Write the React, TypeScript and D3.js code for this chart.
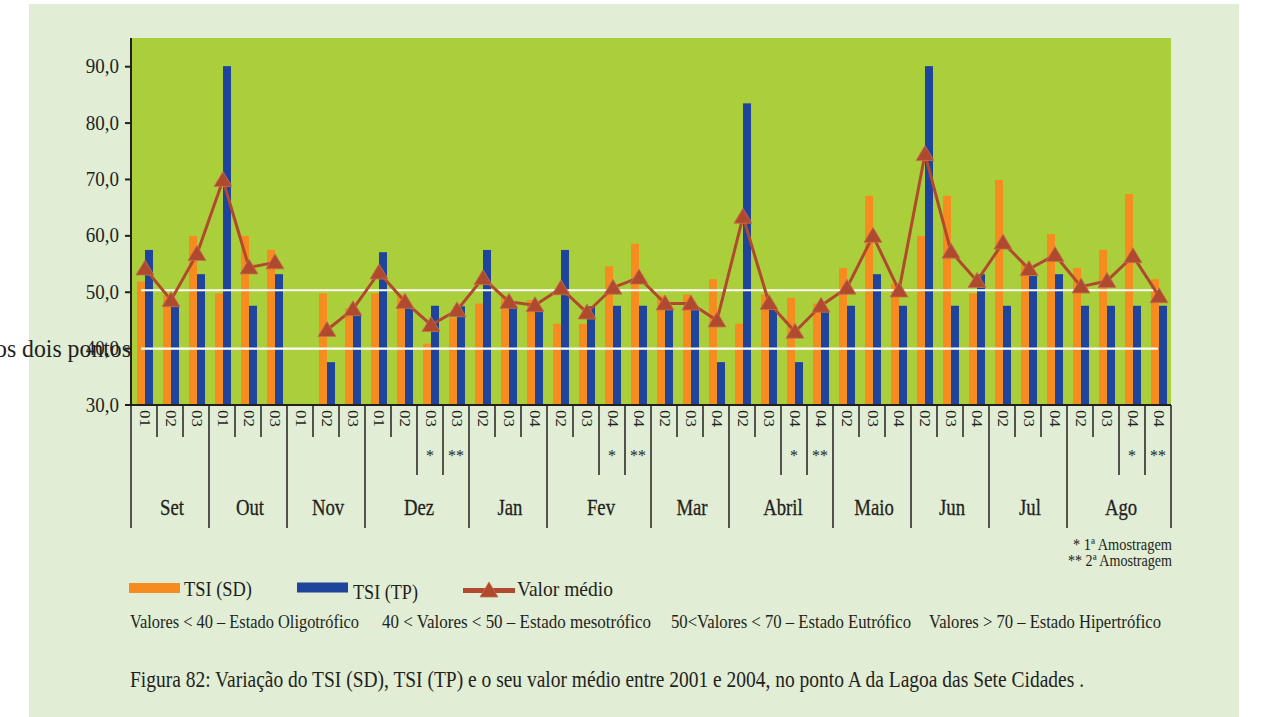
import React from "react";
import * as d3 from "d3";

// ---- data ----
const tickLabels = ["01","02","03","01","02","03","01","02","03","01","02","03","03","02","03","04","02","03","04","04","02","03","04","02","03","04","04","02","03","04","02","03","04","02","03","04","02","03","04","04"];
const starMarks = ["","","","","","","","","","","","*","**","","","","","","*","**","","","","","","*","**","","","","","","","","","","","","*","**"];
const monthNames = ["Set","Out","Nov","Dez","Jan","Fev","Mar","Abril","Maio","Jun","Jul","Ago"];
const monthCounts = [3,3,3,4,3,4,3,4,3,3,3,4];
const tsiSD = [51.9,49.5,60.0,49.8,60.0,57.5,null,49.8,47.2,49.8,49.6,40.9,45.4,48.0,49.3,48.6,44.4,44.4,54.6,58.6,49.4,49.6,52.3,44.4,49.6,49.0,48.0,54.3,67.1,51.5,60.0,67.1,49.8,69.9,55.0,60.3,54.3,57.5,67.4,52.3];
const tsiTP = [57.5,47.6,53.2,90.1,47.6,53.2,null,37.6,46.3,57.1,47.5,47.6,47.5,57.5,47.5,46.8,57.5,47.5,47.6,47.6,47.0,47.0,37.6,83.5,47.0,37.6,46.8,47.6,53.2,47.6,90.1,47.6,53.2,47.6,52.9,53.2,47.6,47.6,47.6,47.6];
const valorMedio = [54.2,48.6,56.8,69.9,54.4,55.3,null,43.3,47.0,53.5,48.3,44.2,46.8,52.5,48.3,47.7,50.7,46.4,50.8,52.6,48.0,48.0,45.0,63.4,48.1,43.0,47.6,50.8,60.0,50.3,74.5,57.2,52.0,58.8,54.1,56.6,51.0,52.0,56.4,49.3];
const yTicks = [30,40,50,60,70,80,90];
const thresholds = [50,40];
const trophicTexts = [
  "Valores < 40 – Estado Oligotrófico",
  "40 < Valores < 50 – Estado mesotrófico",
  "50<Valores < 70 – Estado Eutrófico",
  "Valores > 70 – Estado Hipertrófico",
];

const FONT = "Liberation Serif";
const INK = "#231f20";
const ORANGE = "#f68b1f";
const BLUE = "#1e449b";
const RED = "#b04a2e";
const T = { fontFamily: FONT, fill: INK } as const;

export default function App() {
  const W = 1261, H = 717;
  const left = 131, right = 1171, top = 38, bottom = 405;
  const n = tickLabels.length;
  const x = d3.scaleBand<number>().domain(d3.range(n)).range([left, right]);
  const bw = x.bandwidth();
  const cx = (i: number) => (x(i) as number) + bw / 2;
  const y = d3.scaleLinear().domain([30, 90]).range([bottom, 66.7]);
  const fmt = (v: number) => d3.format(".1f")(v).replace(".", ",");
  const line = d3.line<number | null>()
    .defined((d) => d != null)
    .x((_, i) => cx(i) + 1)
    .y((d) => y(d as number));

  const monthStarts: number[] = [];
  let acc = 0;
  monthCounts.forEach((c) => { monthStarts.push(acc); acc += c; });
  const monthBoundary = new Set([...monthStarts, n]);

  const barW = 8;
  const tri = (px: number, py: number) =>
    `M${px},${py - 8.5}L${px + 9},${py + 6.5}L${px - 9},${py + 6.5}Z`;

  return (
    <svg width={W} height={H} style={{ position: "absolute", left: 0, top: 0, display: "block", fontFamily: FONT }}>
      <rect x={0} y={0} width={W} height={H} fill="#ffffff" />
      <rect x={29} y={4} width={1210} height={H - 4} fill="#e1edd5" />
      <rect x={left} y={top} width={right - left} height={bottom - top} fill="#abcf3a" />

      {tsiSD.map((v, i) => v == null ? null : (
        <rect key={"sd" + i} x={cx(i) + 1 - barW} y={y(v)} width={barW} height={bottom - y(v)} fill={ORANGE} />
      ))}
      {tsiTP.map((v, i) => v == null ? null : (
        <rect key={"tp" + i} x={cx(i) + 1} y={y(v)} width={barW} height={bottom - y(v)} fill={BLUE} />
      ))}

      {thresholds.map((t, k) => (
        <line key={"th" + k} x1={cx(0) - 3} x2={cx(n - 1)} y1={y(t) - (t === 50 ? 2 : 0)} y2={y(t) - (t === 50 ? 2 : 0)} stroke="#ffffff" strokeWidth={2.2} />
      ))}

      <path d={line(valorMedio) || ""} fill="none" stroke={RED} strokeWidth={3} strokeLinejoin="round" />
      {valorMedio.map((v, i) => v == null ? null : (
        <path key={"m" + i} d={tri(cx(i) + 1, y(v))} fill={RED} stroke="#c8704f" strokeWidth={0.8} />
      ))}

      <line x1={left} x2={left} y1={top} y2={bottom} stroke={INK} strokeWidth={2} />
      <line x1={left} x2={right} y1={bottom} y2={bottom} stroke={INK} strokeWidth={2} />
      {yTicks.map((t) => (
        <g key={"yt" + t}>
          <line x1={left - 6} x2={left} y1={y(t)} y2={y(t)} stroke={INK} strokeWidth={2} />
          <text {...T} transform={`translate(119,${y(t) + 6.5}) scale(0.95,1)`} textAnchor="end" fontSize={20}>{fmt(t)}</text>
        </g>
      ))}

      {d3.range(n + 1).map((i) => {
        const bx = left + i * bw;
        const y2 = monthBoundary.has(i) ? 528 : (starMarks[i] ? 475 : 437);
        return <line key={"sep" + i} x1={bx} x2={bx} y1={bottom} y2={y2} stroke={INK} strokeWidth={1.5} />;
      })}
      {tickLabels.map((t, i) => (
        <text {...T} key={"tl" + i} transform={`translate(${cx(i)},${410}) rotate(90)`} fontSize={14} dominantBaseline="central" textLength={17} lengthAdjust="spacingAndGlyphs">{t}</text>
      ))}
      {starMarks.map((s, i) => s ? (
        <text {...T} key={"st" + i} x={cx(i)} y={461} textAnchor="middle" fontSize={16}>{s}</text>
      ) : null)}
      {monthNames.map((m, k) => {
        const a = monthStarts[k];
        const mx = left + (a + monthCounts[k] / 2) * bw;
        return <text {...T} key={"mn" + k} transform={`translate(${mx + 2},515) scale(0.78,1)`} textAnchor="middle" fontSize={24} stroke={INK} strokeWidth={0.3}>{m}</text>;
      })}

      <text {...T} x={1172} y={550} textAnchor="end" fontSize={16} textLength={99} lengthAdjust="spacingAndGlyphs">* 1ª Amostragem</text>
      <text {...T} x={1172} y={566} textAnchor="end" fontSize={16} textLength={104} lengthAdjust="spacingAndGlyphs">** 2ª Amostragem</text>

      <rect x={129} y={583} width={51} height={10} fill={ORANGE} />
      <text {...T} x={184} y={596} fontSize={22} textLength={68} lengthAdjust="spacingAndGlyphs">TSI (SD)</text>
      <rect x={297} y={582.5} width={51} height={10} fill={BLUE} />
      <text {...T} x={353} y={598.5} fontSize={22} textLength={65} lengthAdjust="spacingAndGlyphs">TSI (TP)</text>
      <line x1={463} x2={515} y1={590.5} y2={590.5} stroke={RED} strokeWidth={5} />
      <path d={tri(489, 590.5)} fill={RED} stroke="#c8704f" strokeWidth={0.8} />
      <text {...T} x={517} y={596} fontSize={22} textLength={96} lengthAdjust="spacingAndGlyphs">Valor médio</text>

      <text {...T} x={130} y={628} fontSize={19} textLength={229} lengthAdjust="spacingAndGlyphs">{trophicTexts[0]}</text>
      <text {...T} x={382} y={628} fontSize={19} textLength={269} lengthAdjust="spacingAndGlyphs">{trophicTexts[1]}</text>
      <text {...T} x={671} y={628} fontSize={19} textLength={240} lengthAdjust="spacingAndGlyphs">{trophicTexts[2]}</text>
      <text {...T} x={929} y={628} fontSize={19} textLength={232} lengthAdjust="spacingAndGlyphs">{trophicTexts[3]}</text>

      <text {...T} x={130} y={687} fontSize={24} textLength={954} lengthAdjust="spacingAndGlyphs">Figura 82: Variação do TSI (SD), TSI (TP) e o seu valor médio entre 2001 e 2004, no ponto A da Lagoa das Sete Cidades .</text>

      <text {...T} x={-5} y={357} fontSize={26} textLength={136} lengthAdjust="spacingAndGlyphs">os dois pontos</text>
    </svg>
  );
}
